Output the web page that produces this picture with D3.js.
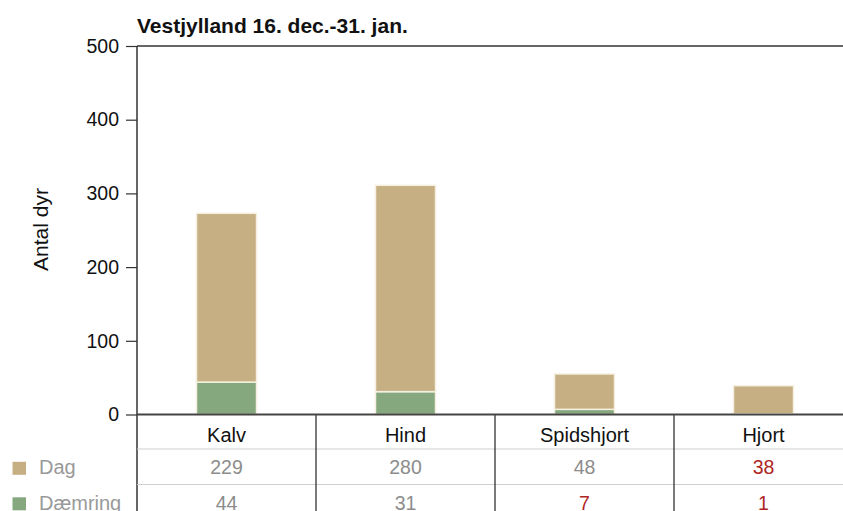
<!DOCTYPE html>
<html><head><meta charset="utf-8">
<script src="https://cdn.jsdelivr.net/npm/d3@7"></script>
<style>body{margin:0;background:#fff;}svg{display:block;font-family:"Liberation Sans",Arial,sans-serif;}</style>
</head><body>
<svg id="c" width="843" height="511"></svg>
<script>
const categories = ["Kalv", "Hind", "Spidshjort", "Hjort"];
const seriesNames = ["Dag", "Dæmring"];
const dag = [229, 280, 48, 38];
const daemring = [44, 31, 7, 1];
const dagRed = [false, false, false, true];
const daemringRed = [false, false, true, true];
const yTicks = [0, 100, 200, 300, 400, 500];
const title = "Vestjylland 16. dec.-31. jan.";
const yLabel = "Antal dyr";

(function () {
const colors = {"Dag": "#c6b083", "Dæmring": "#86a87e"};
const svg = d3.select("#c");
const left = 137, band = 179, plotTop = 46, zeroY = 414.5;
const x = d3.scaleBand().domain(categories).range([left, left + band * categories.length]).paddingInner(0).paddingOuter(0);
const y = d3.scaleLinear().domain([0, 500]).range([zeroY, plotTop]);
const barW = 60;

const rows = categories.map((c, i) => ({cat: c, Dag: dag[i], "Dæmring": daemring[i]}));
const stack = d3.stack().keys(["Dæmring", "Dag"])(rows);

stack.forEach(layer => {
  svg.append("g").selectAll("rect").data(layer).join("rect")
    .attr("x", d => x(d.data.cat) + x.bandwidth() / 2 - barW / 2)
    .attr("width", barW)
    .attr("y", d => y(d[1]))
    .attr("height", d => y(d[0]) - y(d[1]))
    .attr("fill", colors[layer.key])
    .attr("stroke", "#f4efe0")
    .attr("stroke-width", 1.5);
});

svg.append("line").attr("x1", left).attr("x2", 843).attr("y1", plotTop).attr("y2", plotTop).attr("stroke", "#333").attr("stroke-width", 1.5);

const yAxis = d3.axisLeft(y).tickValues(yTicks).tickSize(11).tickPadding(7);
const ga = svg.append("g").attr("transform", `translate(${left},0)`).call(yAxis);
ga.select(".domain").remove();
ga.selectAll(".tick line").attr("stroke", "#333").attr("stroke-width", 1.2);
ga.selectAll(".tick text").attr("font-size", 19.5).attr("fill", "#111").attr("font-family", '"Liberation Sans",Arial,sans-serif');
svg.append("line").attr("x1", left).attr("x2", left).attr("y1", plotTop).attr("y2", 511).attr("stroke", "#333").attr("stroke-width", 1.5);

const rowLines = [449, 484.5];
rowLines.forEach(yy => svg.append("line").attr("x1", left).attr("x2", 843).attr("y1", yy).attr("y2", yy).attr("stroke", "#cfcfcf").attr("stroke-width", 1));
categories.slice(1).forEach(c => {
  svg.append("line").attr("x1", x(c)).attr("x2", x(c)).attr("y1", zeroY).attr("y2", 511).attr("stroke", "#222").attr("stroke-width", 1.2);
});
svg.append("line").attr("x1", left).attr("x2", 843).attr("y1", zeroY).attr("y2", zeroY).attr("stroke", "#444").attr("stroke-width", 2);

svg.append("g").selectAll("text").data(categories).join("text")
  .attr("x", d => x(d) + x.bandwidth() / 2).attr("y", 441.5)
  .attr("text-anchor", "middle").attr("font-size", 20).attr("fill", "#111").text(d => d);

const valueRows = [{vals: dag, red: dagRed, y: 474.3}, {vals: daemring, red: daemringRed, y: 509.8}];
valueRows.forEach(r => {
  svg.append("g").selectAll("text").data(r.vals).join("text")
    .attr("x", (d, i) => x(categories[i]) + x.bandwidth() / 2).attr("y", r.y)
    .attr("text-anchor", "middle").attr("font-size", 19.5)
    .attr("fill", (d, i) => r.red[i] ? "#b02525" : "#8c8c8c").text(d => d);
});

seriesNames.forEach((s, i) => {
  const base = [474.3, 509.8][i];
  svg.append("rect").attr("x", 12.5).attr("y", base - 12.5).attr("width", 13.5).attr("height", 13).attr("fill", colors[s]);
  svg.append("text").attr("x", 39).attr("y", base).attr("font-size", 20).attr("fill", "#999").text(s);
});

svg.append("text").attr("x", 137).attr("y", 33.3).attr("font-size", 21).attr("font-weight", "bold").attr("fill", "#111").text(title);

svg.append("text").attr("transform", "translate(48,229.5) rotate(-90)").attr("text-anchor", "middle")
  .attr("font-size", 21).attr("fill", "#111").text(yLabel);
})();
</script>
</body></html>
